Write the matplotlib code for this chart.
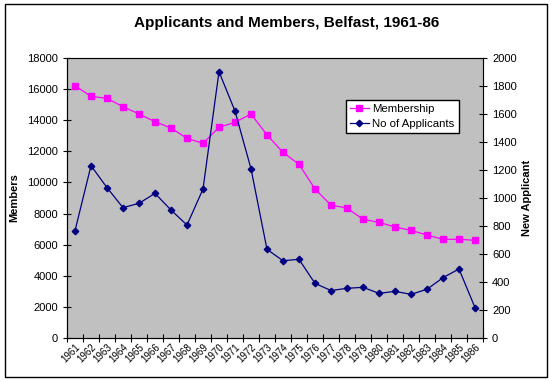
import matplotlib.pyplot as plt
from matplotlib.patches import Rectangle

plt.rcParams['font.family'] = ['Liberation Sans', 'DejaVu Sans']

years = [str(y) for y in range(1961, 1987)]
membership = [16220, 15535, 15405, 14870, 14400, 13905, 13500, 12835, 12515, 13545,
              13865, 14400, 13050, 11935, 11165, 9580, 8540, 8357, 7630, 7437,
              7135, 6920, 6620, 6345, 6345, 6280]
applicants = [766, 1231, 1074, 931, 962, 1033, 914, 807, 1064, 1902,
              1621, 1209, 633, 552, 562, 390, 339, 355, 362, 319,
              333, 312, 348, 431, 493, 217]

W, H = 553, 381
fig = plt.figure(figsize=(W / 100, H / 100), dpi=100)
fig.patches.append(Rectangle((5 / W, 4 / H), 542 / W, 373 / H, transform=fig.transFigure,
                             fill=False, edgecolor='black', linewidth=1))

ax = fig.add_axes([67 / W, 1 - 338 / H, 416 / W, 280 / H])
ax.set_facecolor('#C0C0C0')
x = list(range(len(years)))

l1, = ax.plot(x, membership, color='#FF00FF', marker='s', markersize=3.8, linewidth=0.9,
              label='Membership')
ax.set_xlim(-0.5, len(years) - 0.5)
ax.set_ylim(0, 18000)
ax.set_yticks(range(0, 18001, 2000))
ax.set_xticks([i - 0.5 for i in range(len(years) + 1)], minor=False)
ax.set_xticklabels([])
ax.set_xticks(x, minor=True)
ax.set_xticklabels(years, minor=True, rotation=45, fontsize=7, ha='right',
                   rotation_mode='anchor')
ax.tick_params(axis='x', which='minor', length=0, pad=3)
ax.tick_params(axis='x', which='major', direction='inout', length=6)
ax.tick_params(axis='y', direction='inout', length=6, labelsize=8)
ax.set_ylabel('Members', fontsize=8, fontweight='bold', labelpad=6)
for s in ['top', 'right']:
    ax.spines[s].set_color('#808080')

ax2 = ax.twinx()
l2, = ax2.plot(x, applicants, color='#000080', marker='D', markersize=3.3, linewidth=0.9,
               label='No of Applicants')
ax2.set_ylim(0, 2000)
ax2.set_yticks(range(0, 2001, 200))
ax2.tick_params(axis='y', direction='inout', length=6, labelsize=8)
ax2.spines['right'].set_color('black')
ax2.set_ylabel('New Applicant', fontsize=8, fontweight='bold', labelpad=4)

leg = ax2.legend(handles=[l1, l2], loc='upper left', bbox_to_anchor=(0.67, 0.85),
                 fontsize=8.2, frameon=True, fancybox=False, edgecolor='black',
                 framealpha=1, borderpad=0.35, handlelength=1.7, handletextpad=0.3,
                 labelspacing=0.45, borderaxespad=0)
leg.get_frame().set_linewidth(1)

fig.text(0.5 + 10 / W, 1 - 23 / H, 'Applicants and Members, Belfast, 1961-86',
         ha='center', va='center', fontsize=11, fontweight='bold')

fig.savefig('out.png', dpi=100)
